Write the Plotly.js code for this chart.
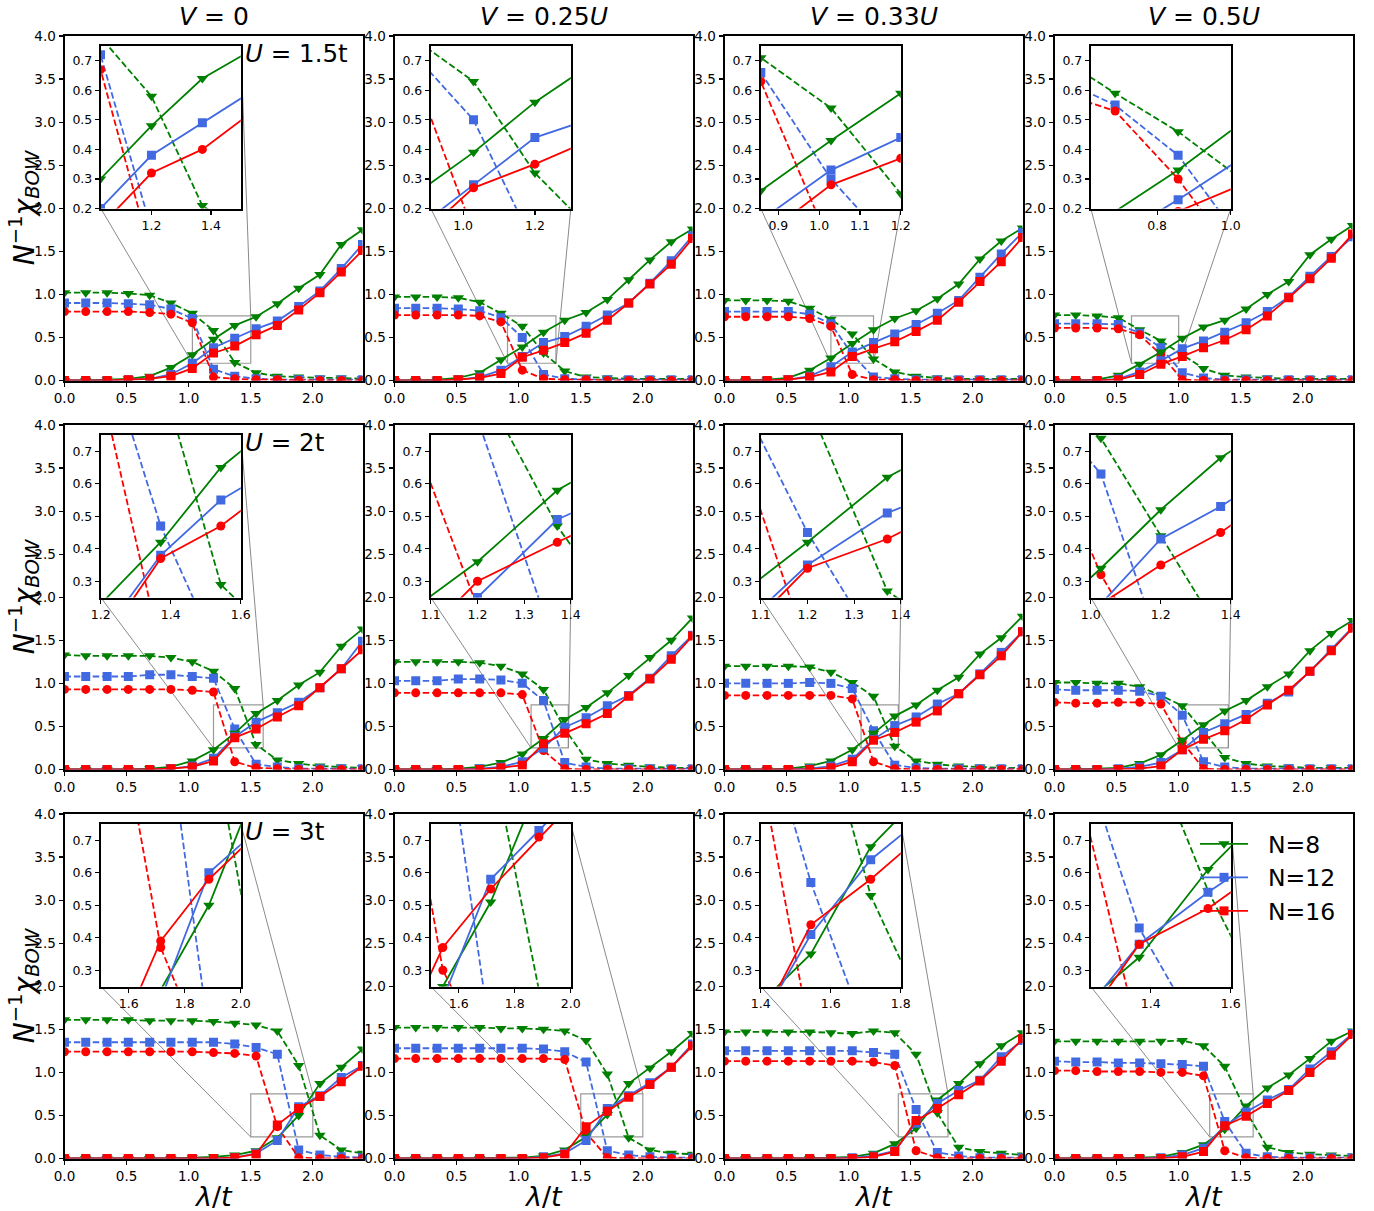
<!DOCTYPE html>
<html>
<head>
<meta charset="utf-8">
<script src="https://cdn.plot.ly/plotly-3.0.1.min.js"></script>
<style>
  html, body { margin: 0; padding: 0; background: #fff; }
  #chart { width: 1374px; height: 1211px; }
</style>
</head>
<body>
<div id="chart"></div>
<script>
// Coupling λ/t sampled on 15 points
const lambda = [0, 0.171, 0.343, 0.514, 0.686, 0.857, 1.029, 1.2, 1.371, 1.543, 1.714, 1.886, 2.057, 2.229, 2.4];

// Panel order: rows U = 1.5t, 2t, 3t; columns V = 0, 0.25U, 0.33U, 0.5U
const rowLabels = ['1.5t', '2t', '3t'];
const colLabels = ['0', '0.25<i>U</i>', '0.33<i>U</i>', '0.5<i>U</i>'];

// Dashed curves (one list per panel)
const dashN8 = [
  [1.02, 1.02, 1.02, 1.01, 0.99, 0.90, 0.78, 0.58, 0.21, 0.09, 0.05, 0.04, 0.03, 0.03, 0.02],
  [0.97, 0.97, 0.97, 0.96, 0.91, 0.78, 0.63, 0.32, 0.11, 0.04, 0.03, 0.02, 0.02, 0.02, 0.02],
  [0.93, 0.93, 0.93, 0.92, 0.84, 0.71, 0.54, 0.25, 0.10, 0.05, 0.03, 0.02, 0.02, 0.02, 0.02],
  [0.76, 0.76, 0.75, 0.73, 0.59, 0.46, 0.30, 0.14, 0.06, 0.04, 0.03, 0.02, 0.02, 0.02, 0.02],
  [1.33, 1.32, 1.32, 1.32, 1.32, 1.30, 1.25, 1.14, 0.94, 0.29, 0.11, 0.07, 0.04, 0.03, 0.02],
  [1.25, 1.25, 1.25, 1.25, 1.24, 1.20, 1.11, 0.93, 0.47, 0.12, 0.07, 0.05, 0.03, 0.02, 0.02],
  [1.20, 1.20, 1.20, 1.20, 1.19, 1.13, 1.01, 0.85, 0.27, 0.10, 0.06, 0.04, 0.03, 0.02, 0.02],
  [1.01, 1.01, 1.00, 1.00, 0.96, 0.86, 0.74, 0.44, 0.14, 0.07, 0.04, 0.03, 0.02, 0.02, 0.02],
  [1.61, 1.61, 1.61, 1.61, 1.60, 1.60, 1.60, 1.59, 1.57, 1.55, 1.48, 1.08, 0.27, 0.10, 0.06],
  [1.52, 1.52, 1.52, 1.52, 1.52, 1.51, 1.51, 1.50, 1.48, 1.37, 0.98, 0.24, 0.10, 0.06, 0.05],
  [1.47, 1.47, 1.47, 1.47, 1.47, 1.46, 1.45, 1.48, 1.46, 1.21, 0.53, 0.13, 0.08, 0.06, 0.04],
  [1.36, 1.36, 1.36, 1.36, 1.36, 1.36, 1.37, 1.31, 1.07, 0.545, 0.13, 0.07, 0.05, 0.04, 0.03]
];
const dashN12 = [
  [0.90, 0.90, 0.90, 0.89, 0.88, 0.83, 0.72, 0.13, 0.05, 0.02, 0.01, 0.01, 0.01, 0.01, 0.01],
  [0.84, 0.84, 0.84, 0.83, 0.81, 0.73, 0.50, 0.07, 0.02, 0.01, 0.01, 0.01, 0.01, 0.01, 0.01],
  [0.80, 0.80, 0.80, 0.80, 0.77, 0.66, 0.30, 0.04, 0.02, 0.01, 0.01, 0.01, 0.01, 0.01, 0.01],
  [0.66, 0.66, 0.66, 0.65, 0.55, 0.38, 0.09, 0.03, 0.01, 0.01, 0.01, 0.01, 0.01, 0.01, 0.01],
  [1.08, 1.08, 1.08, 1.08, 1.10, 1.10, 1.08, 1.06, 0.47, 0.06, 0.03, 0.01, 0.01, 0.01, 0.01],
  [1.03, 1.03, 1.03, 1.05, 1.05, 1.04, 1.00, 0.80, 0.08, 0.03, 0.01, 0.01, 0.01, 0.01, 0.01],
  [1.00, 1.00, 1.00, 1.00, 1.01, 1.00, 0.94, 0.45, 0.05, 0.02, 0.01, 0.01, 0.01, 0.01, 0.01],
  [0.93, 0.92, 0.92, 0.92, 0.91, 0.85, 0.63, 0.09, 0.03, 0.01, 0.01, 0.01, 0.01, 0.01, 0.01],
  [1.35, 1.35, 1.35, 1.35, 1.35, 1.35, 1.35, 1.35, 1.33, 1.29, 1.21, 0.10, 0.04, 0.02, 0.01],
  [1.28, 1.28, 1.28, 1.28, 1.28, 1.28, 1.28, 1.27, 1.24, 1.12, 0.09, 0.04, 0.02, 0.01, 0.01],
  [1.25, 1.25, 1.25, 1.25, 1.25, 1.25, 1.25, 1.23, 1.21, 0.57, 0.07, 0.03, 0.01, 0.01, 0.01],
  [1.13, 1.12, 1.12, 1.11, 1.11, 1.10, 1.09, 1.07, 0.43, 0.06, 0.02, 0.01, 0.01, 0.01, 0.01]
];
const dashN16 = [
  [0.80, 0.80, 0.80, 0.80, 0.79, 0.77, 0.67, 0.04, 0.02, 0.01, 0.01, 0.00, 0.00, 0.00, 0.00],
  [0.76, 0.76, 0.76, 0.76, 0.75, 0.68, 0.12, 0.02, 0.01, 0.01, 0.00, 0.00, 0.00, 0.00, 0.00],
  [0.74, 0.74, 0.74, 0.74, 0.72, 0.63, 0.07, 0.01, 0.01, 0.00, 0.00, 0.00, 0.00, 0.00, 0.00],
  [0.61, 0.61, 0.61, 0.60, 0.53, 0.30, 0.01, 0.00, 0.00, 0.00, 0.00, 0.00, 0.00, 0.00, 0.00],
  [0.93, 0.93, 0.93, 0.93, 0.93, 0.93, 0.92, 0.90, 0.09, 0.02, 0.01, 0.00, 0.00, 0.00, 0.00],
  [0.89, 0.89, 0.89, 0.89, 0.89, 0.89, 0.87, 0.22, 0.01, 0.00, 0.00, 0.00, 0.00, 0.00, 0.00],
  [0.86, 0.86, 0.86, 0.86, 0.86, 0.86, 0.82, 0.09, 0.01, 0.00, 0.00, 0.00, 0.00, 0.00, 0.00],
  [0.78, 0.77, 0.77, 0.78, 0.78, 0.76, 0.32, 0.01, 0.00, 0.00, 0.00, 0.00, 0.00, 0.00, 0.00],
  [1.24, 1.24, 1.24, 1.24, 1.24, 1.24, 1.24, 1.23, 1.22, 1.19, 0.37, 0.01, 0.00, 0.00, 0.00],
  [1.16, 1.16, 1.16, 1.16, 1.16, 1.16, 1.16, 1.16, 1.15, 0.30, 0.01, 0.00, 0.00, 0.00, 0.00],
  [1.13, 1.13, 1.13, 1.13, 1.13, 1.13, 1.13, 1.12, 1.08, 0.09, 0.01, 0.00, 0.00, 0.00, 0.00],
  [1.02, 1.02, 1.01, 1.01, 1.01, 1.00, 1.00, 0.96, 0.09, 0.01, 0.00, 0.00, 0.00, 0.00, 0.00]
];

// Solid curves (one list per panel)
const solidN8 = [
  [0.00, 0.00, 0.01, 0.02, 0.05, 0.15, 0.30, 0.48, 0.64, 0.74, 0.89, 1.07, 1.23, 1.58, 1.75],
  [0.00, 0.00, 0.01, 0.03, 0.09, 0.24, 0.39, 0.56, 0.70, 0.79, 0.94, 1.17, 1.40, 1.61, 1.76],
  [0.00, 0.00, 0.01, 0.03, 0.12, 0.26, 0.43, 0.59, 0.72, 0.81, 0.95, 1.12, 1.41, 1.62, 1.77],
  [0.00, 0.00, 0.01, 0.06, 0.19, 0.33, 0.49, 0.62, 0.70, 0.83, 1.00, 1.15, 1.46, 1.64, 1.80],
  [0.00, 0.00, 0.00, 0.00, 0.01, 0.03, 0.10, 0.23, 0.42, 0.65, 0.80, 0.98, 1.13, 1.43, 1.63],
  [0.00, 0.00, 0.00, 0.01, 0.03, 0.08, 0.18, 0.36, 0.58, 0.72, 0.89, 1.09, 1.30, 1.50, 1.76],
  [0.00, 0.00, 0.00, 0.01, 0.04, 0.10, 0.23, 0.42, 0.62, 0.75, 0.92, 1.07, 1.34, 1.53, 1.78],
  [0.00, 0.00, 0.01, 0.02, 0.07, 0.17, 0.34, 0.52, 0.68, 0.80, 0.96, 1.11, 1.38, 1.58, 1.73],
  [0.00, 0.00, 0.00, 0.00, 0.00, 0.00, 0.01, 0.02, 0.04, 0.09, 0.24, 0.50, 0.87, 1.06, 1.27],
  [0.00, 0.00, 0.00, 0.00, 0.00, 0.01, 0.01, 0.03, 0.10, 0.25, 0.51, 0.87, 1.05, 1.24, 1.45],
  [0.00, 0.00, 0.00, 0.00, 0.00, 0.01, 0.02, 0.06, 0.17, 0.35, 0.68, 0.87, 1.10, 1.31, 1.46],
  [0.00, 0.00, 0.00, 0.00, 0.01, 0.02, 0.07, 0.16, 0.34, 0.61, 0.82, 0.97, 1.16, 1.36, 1.48]
];
const solidN12 = [
  [0.00, 0.00, 0.00, 0.01, 0.02, 0.07, 0.20, 0.38, 0.49, 0.60, 0.69, 0.86, 1.04, 1.30, 1.58],
  [0.00, 0.00, 0.00, 0.01, 0.04, 0.12, 0.28, 0.44, 0.51, 0.63, 0.76, 0.90, 1.13, 1.39, 1.68],
  [0.00, 0.00, 0.00, 0.01, 0.05, 0.16, 0.33, 0.44, 0.54, 0.65, 0.78, 0.93, 1.20, 1.47, 1.72],
  [0.00, 0.00, 0.00, 0.02, 0.10, 0.23, 0.37, 0.46, 0.56, 0.67, 0.80, 0.97, 1.21, 1.44, 1.67],
  [0.00, 0.00, 0.00, 0.00, 0.00, 0.01, 0.04, 0.13, 0.38, 0.55, 0.66, 0.78, 0.95, 1.17, 1.49],
  [0.00, 0.00, 0.00, 0.00, 0.01, 0.03, 0.09, 0.25, 0.49, 0.60, 0.74, 0.86, 1.06, 1.32, 1.56],
  [0.00, 0.00, 0.00, 0.00, 0.01, 0.04, 0.12, 0.35, 0.51, 0.61, 0.76, 0.88, 1.11, 1.36, 1.60],
  [0.00, 0.00, 0.00, 0.01, 0.03, 0.08, 0.23, 0.43, 0.53, 0.64, 0.77, 0.90, 1.14, 1.39, 1.65],
  [0.00, 0.00, 0.00, 0.00, 0.00, 0.00, 0.00, 0.00, 0.01, 0.06, 0.21, 0.60, 0.73, 0.94, 1.08],
  [0.00, 0.00, 0.00, 0.00, 0.00, 0.00, 0.00, 0.02, 0.06, 0.21, 0.58, 0.73, 0.88, 1.06, 1.33],
  [0.00, 0.00, 0.00, 0.00, 0.00, 0.00, 0.01, 0.03, 0.09, 0.41, 0.64, 0.79, 0.91, 1.18, 1.37],
  [0.00, 0.00, 0.00, 0.00, 0.00, 0.01, 0.04, 0.12, 0.38, 0.54, 0.68, 0.80, 1.04, 1.24, 1.45]
];
const solidN16 = [
  [0.00, 0.00, 0.00, 0.01, 0.02, 0.05, 0.14, 0.32, 0.40, 0.53, 0.64, 0.82, 1.02, 1.26, 1.51],
  [0.00, 0.00, 0.00, 0.01, 0.03, 0.08, 0.27, 0.35, 0.44, 0.55, 0.70, 0.90, 1.12, 1.35, 1.65],
  [0.00, 0.00, 0.00, 0.01, 0.04, 0.10, 0.28, 0.37, 0.45, 0.57, 0.70, 0.91, 1.15, 1.38, 1.66],
  [0.00, 0.00, 0.00, 0.01, 0.07, 0.19, 0.28, 0.38, 0.47, 0.59, 0.75, 0.96, 1.18, 1.42, 1.70],
  [0.00, 0.00, 0.00, 0.00, 0.00, 0.01, 0.03, 0.10, 0.37, 0.47, 0.61, 0.74, 0.95, 1.17, 1.39],
  [0.00, 0.00, 0.00, 0.00, 0.00, 0.02, 0.05, 0.30, 0.42, 0.53, 0.65, 0.85, 1.05, 1.28, 1.55],
  [0.00, 0.00, 0.00, 0.00, 0.00, 0.02, 0.09, 0.34, 0.43, 0.55, 0.68, 0.88, 1.10, 1.32, 1.60],
  [0.00, 0.00, 0.00, 0.00, 0.01, 0.04, 0.23, 0.35, 0.45, 0.58, 0.75, 0.92, 1.14, 1.38, 1.64],
  [0.00, 0.00, 0.00, 0.00, 0.00, 0.00, 0.00, 0.00, 0.01, 0.05, 0.39, 0.58, 0.72, 0.89, 1.07],
  [0.00, 0.00, 0.00, 0.00, 0.00, 0.00, 0.00, 0.01, 0.05, 0.37, 0.55, 0.71, 0.86, 1.06, 1.31],
  [0.00, 0.00, 0.00, 0.00, 0.00, 0.00, 0.00, 0.02, 0.08, 0.44, 0.58, 0.74, 0.90, 1.13, 1.39],
  [0.00, 0.00, 0.00, 0.00, 0.00, 0.00, 0.02, 0.08, 0.38, 0.49, 0.64, 0.79, 1.00, 1.20, 1.44]
];

// Zoomed window of each inset
const insetXRange = [
  [1.03, 1.5], [0.91, 1.3], [0.857, 1.2], [0.62, 1.0],
  [1.2, 1.6], [1.1, 1.4], [1.1, 1.4], [1.0, 1.4],
  [1.5, 2.0], [1.5, 2.0], [1.4, 1.8], [1.25, 1.6]
];
const insetXTicks = [
  [1.2, 1.4], [1.0, 1.2], [0.9, 1.0, 1.1, 1.2], [0.8, 1.0],
  [1.2, 1.4, 1.6], [1.1, 1.2, 1.3, 1.4], [1.1, 1.2, 1.3, 1.4], [1.0, 1.2, 1.4],
  [1.6, 1.8, 2.0], [1.6, 1.8, 2.0], [1.4, 1.6, 1.8], [1.4, 1.6]
];
const insetYRangeByRow = [[0.2, 0.75], [0.25, 0.75], [0.25, 0.75]];
const insetYTicksByRow = [
  [0.2, 0.3, 0.4, 0.5, 0.6, 0.7],
  [0.3, 0.4, 0.5, 0.6, 0.7],
  [0.3, 0.4, 0.5, 0.6, 0.7]
];
const mainXTicks = [0, 0.5, 1.0, 1.5, 2.0];
const mainYTicks = [0, 0.5, 1.0, 1.5, 2.0, 2.5, 3.0, 3.5, 4.0];

// ---- geometry (pixels on a 1374 x 1211 page) ----
const W = 1374, H = 1211;
const FONT = 'DejaVu Sans';
const mainW = 298, mainH = 344.5;
const colLeft = c => 64.5 + c * 330;
const rowTop = r => 36 + r * 389;
const insetOffX = 36.3, insetOffY = 10, insetW = 140, insetH = 162.5;
const mainXRange = [0, 2.4], mainYRange = [0, 4];

const xDom = (left, w) => [left / W, (left + w) / W];
const yDom = (top, h) => [1 - (top + h) / H, 1 - top / H];
const axName = (letter, i) => (i === 1 ? letter : letter + i);
const axKey = (letter, i) => (i === 1 ? letter + 'axis' : letter + 'axis' + i);

const series = [
  { name: 'N=8',  color: 'green',     dash: dashN8,  solid: solidN8,  dashSym: 'triangle-down', mainSym: 'triangle-down', insetSym: 'triangle-down', size: 10 },
  { name: 'N=12', color: 'royalblue', dash: dashN12, solid: solidN12, dashSym: 'square',        mainSym: 'square',        insetSym: 'square',        size: 9 },
  { name: 'N=16', color: 'red',       dash: dashN16, solid: solidN16, dashSym: 'circle',        mainSym: 'square',        insetSym: 'circle',        size: 9 }
];

const frame = {
  showline: true, mirror: true, linecolor: '#000', linewidth: 2,
  ticks: 'outside', ticklen: 4, tickwidth: 1.2, tickcolor: '#000',
  showgrid: false, zeroline: false, tickformat: '.1f'
};
const mainTickFont = { family: FONT, size: 13.5, color: '#000' };
const insetTickFont = { family: FONT, size: 12.5, color: '#000' };

const traces = [];
const layout = {
  width: W, height: H,
  margin: { l: 0, r: 0, t: 0, b: 0 },
  paper_bgcolor: '#fff', plot_bgcolor: '#fff',
  showlegend: true,
  legend: {
    x: 1195 / W, y: 1 - 822 / H, xanchor: 'left', yanchor: 'top',
    bgcolor: 'rgba(0,0,0,0)', borderwidth: 0,
    font: { family: FONT, size: 23.5, color: '#000' },
    itemwidth: 48, tracegroupgap: 3, traceorder: 'normal'
  },
  annotations: [], shapes: []
};

function addCurves(p, xi, yi, inset) {
  const xa = axName('x', xi), ya = axName('y', yi);
  series.forEach(s => {
    traces.push({
      x: lambda, y: s.dash[p], xaxis: xa, yaxis: ya,
      type: 'scatter', mode: 'lines+markers', showlegend: false, hoverinfo: 'skip',
      line: { color: s.color, width: 1.8, dash: '6.5px,2.9px' },
      marker: { symbol: s.dashSym, size: s.size, color: s.color }
    });
  });
  series.forEach(s => {
    traces.push({
      x: lambda, y: s.solid[p], xaxis: xa, yaxis: ya,
      name: '\u00a0\u00a0' + s.name,
      legendgroup: s.name,
      type: 'scatter', mode: 'lines+markers', hoverinfo: 'skip',
      showlegend: !inset && p === 0,
      line: { color: s.color, width: 1.8 },
      marker: { symbol: inset ? s.insetSym : s.mainSym, size: s.size, color: s.color }
    });
  });
}

for (let p = 0; p < 12; p++) {
  const r = Math.floor(p / 4), c = p % 4;
  const m = p + 1, q = p + 13;
  const left = colLeft(c), top = rowTop(r);

  // main panel axes
  layout[axKey('x', m)] = Object.assign({}, frame, {
    domain: xDom(left, mainW), range: mainXRange, anchor: axName('y', m),
    tickmode: 'array', tickvals: mainXTicks, tickfont: mainTickFont
  });
  layout[axKey('y', m)] = Object.assign({}, frame, {
    domain: yDom(top, mainH), range: mainYRange, anchor: axName('x', m),
    tickmode: 'array', tickvals: mainYTicks, tickfont: mainTickFont
  });

  // inset axes
  const xr = insetXRange[p], yr = insetYRangeByRow[r];
  layout[axKey('x', q)] = Object.assign({}, frame, {
    domain: xDom(left + insetOffX, insetW), range: xr, anchor: axName('y', q),
    tickmode: 'array', tickvals: insetXTicks[p], tickfont: insetTickFont
  });
  layout[axKey('y', q)] = Object.assign({}, frame, {
    domain: yDom(top + insetOffY, insetH), range: yr, anchor: axName('x', q),
    tickmode: 'array', tickvals: insetYTicksByRow[r], tickfont: insetTickFont
  });

  addCurves(p, m, m, false);
  addCurves(p, q, q, true);

  // zoom window marker and its connectors, in the main panel's data units
  const xref = axName('x', m), yref = axName('y', m);
  const spanX = mainXRange[1] - mainXRange[0], spanY = mainYRange[1] - mainYRange[0];
  const ins = {
    x0: mainXRange[0] + spanX * insetOffX / mainW,
    x1: mainXRange[0] + spanX * (insetOffX + insetW) / mainW,
    y1: mainYRange[0] + spanY * (1 - insetOffY / mainH),
    y0: mainYRange[0] + spanY * (1 - (insetOffY + insetH) / mainH)
  };
  const box = { x0: xr[0], x1: xr[1], y0: yr[0], y1: yr[1] };
  layout.shapes.push({
    type: 'rect', xref, yref, layer: 'below',
    x0: box.x0, x1: box.x1, y0: box.y0, y1: box.y1,
    line: { color: '#9a9a9a', width: 1.2 }, fillcolor: 'rgba(0,0,0,0)'
  });
  const bx0 = box.x0 < ins.x0, bx1 = box.x1 < ins.x1;
  const by0 = box.y0 < ins.y0, by1 = box.y1 < ins.y1;
  const corners = [
    [bx0 !== by0, box.x0, box.y0, ins.x0, ins.y0],
    [bx0 === by1, box.x0, box.y1, ins.x0, ins.y1],
    [bx1 === by0, box.x1, box.y0, ins.x1, ins.y0],
    [bx1 !== by1, box.x1, box.y1, ins.x1, ins.y1]
  ];
  corners.forEach(([vis, ax0, ay0, ax1, ay1]) => {
    if (!vis) return;
    layout.shapes.push({
      type: 'line', xref, yref, layer: 'below',
      x0: ax0, y0: ay0, x1: ax1, y1: ay1,
      line: { color: '#8a8a8a', width: 1 }
    });
  });
}

// column headings and x titles
colLabels.forEach((lab, c) => {
  layout.annotations.push({
    xref: 'paper', yref: 'paper', showarrow: false,
    x: (colLeft(c) + mainW / 2) / W, y: 1 - 17 / H, xanchor: 'center', yanchor: 'middle',
    text: '<i>V</i> = ' + lab, font: { family: FONT, size: 25, color: '#000' }
  });
  layout.annotations.push({
    xref: 'paper', yref: 'paper', showarrow: false,
    x: (colLeft(c) + mainW / 2) / W, y: 1 - 1196 / H, xanchor: 'center', yanchor: 'middle',
    text: '<i>λ</i>/<i>t</i>', font: { family: FONT, size: 27, color: '#000' }
  });
});

// row labels and y titles
rowLabels.forEach((lab, r) => {
  layout.annotations.push({
    xref: 'paper', yref: 'paper', showarrow: false,
    x: (colLeft(0) + 0.6 * mainW) / W, y: 1 - (rowTop(r) + 0.05 * mainH) / H,
    xanchor: 'left', yanchor: 'middle',
    text: '<i>U</i> = ' + lab, font: { family: FONT, size: 24.5, color: '#000' }
  });
  layout.annotations.push({
    xref: 'paper', yref: 'paper', showarrow: false,
    x: 24 / W, y: 1 - (rowTop(r) + mainH / 2) / H, xanchor: 'center', yanchor: 'middle',
    textangle: -90,
    text: '<i>N</i><sup>−1</sup><i>χ</i><sub><i>BOW</i></sub>',
    font: { family: FONT, size: 28, color: '#000' }
  });
});

Plotly.newPlot('chart', traces, layout, { displayModeBar: false, staticPlot: true });
</script>
</body>
</html>
